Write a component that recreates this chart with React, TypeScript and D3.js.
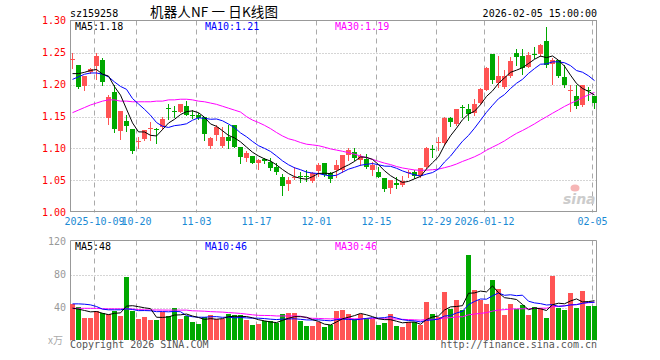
import React from "react";
import * as d3 from "d3";

// ---- data ----
const dates = [
  "2025-09-25","2025-09-26","2025-09-29","2025-09-30",
  "2025-10-09","2025-10-10","2025-10-13","2025-10-14","2025-10-15","2025-10-16","2025-10-17",
  "2025-10-20","2025-10-21","2025-10-22","2025-10-23","2025-10-24","2025-10-27","2025-10-28","2025-10-29","2025-10-30","2025-10-31",
  "2025-11-03","2025-11-04","2025-11-05","2025-11-06","2025-11-07","2025-11-10","2025-11-11","2025-11-12","2025-11-13","2025-11-14",
  "2025-11-17","2025-11-18","2025-11-19","2025-11-20","2025-11-21","2025-11-24","2025-11-25","2025-11-26","2025-11-27","2025-11-28",
  "2025-12-01","2025-12-02","2025-12-03","2025-12-04","2025-12-05","2025-12-08","2025-12-09","2025-12-10","2025-12-11","2025-12-12",
  "2025-12-15","2025-12-16","2025-12-17","2025-12-18","2025-12-19","2025-12-22","2025-12-23","2025-12-24","2025-12-25","2025-12-26",
  "2025-12-29","2025-12-30","2025-12-31",
  "2026-01-05","2026-01-06","2026-01-07","2026-01-08","2026-01-09",
  "2026-01-12","2026-01-13","2026-01-14","2026-01-15","2026-01-16","2026-01-19","2026-01-20","2026-01-21","2026-01-22","2026-01-23",
  "2026-01-26","2026-01-27","2026-01-28","2026-01-29","2026-01-30",
  "2026-02-02","2026-02-03","2026-02-04","2026-02-05",
];

const opens = [
  1.238,1.230,1.197,1.219,1.229,1.238,1.147,1.188,1.127,1.143,
  1.130,1.110,1.115,1.130,1.131,1.134,1.163,1.159,1.157,1.167,
  1.153,1.152,1.150,1.104,1.121,1.104,1.118,1.136,1.102,1.085,
  1.088,1.078,1.083,1.079,1.071,1.056,1.044,1.055,1.057,1.057,
  1.049,1.065,1.077,1.062,1.067,1.067,1.090,1.095,1.082,1.084,
  1.067,1.064,1.054,1.039,1.046,1.043,1.061,1.064,1.057,1.071,
  1.099,1.108,1.108,1.148,1.138,1.165,1.162,1.155,1.171,1.192,
  1.248,1.202,1.196,1.213,1.250,1.244,1.228,1.247,1.247,1.268,
  1.232,1.238,1.212,1.190,1.182,1.168,1.191,1.182,
];
const highs = [
  1.250,1.231,1.214,1.225,1.250,1.242,1.183,1.199,1.158,1.152,
  1.130,1.118,1.129,1.141,1.132,1.149,1.169,1.166,1.169,1.174,
  1.160,1.155,1.150,1.118,1.137,1.134,1.136,1.136,1.102,1.096,
  1.088,1.083,1.085,1.085,1.077,1.060,1.056,1.071,1.063,1.066,
  1.063,1.077,1.077,1.063,1.082,1.090,1.100,1.100,1.092,1.092,
  1.079,1.071,1.054,1.050,1.056,1.057,1.067,1.066,1.070,1.103,
  1.106,1.118,1.150,1.150,1.161,1.168,1.170,1.177,1.194,1.228,
  1.248,1.244,1.222,1.243,1.255,1.256,1.251,1.259,1.263,1.290,
  1.241,1.239,1.230,1.199,1.199,1.200,1.196,1.182,
];
const lows = [
  1.225,1.194,1.191,1.218,1.209,1.199,1.138,1.126,1.115,1.128,
  1.093,1.100,1.113,1.113,1.109,1.130,1.146,1.150,1.157,1.152,
  1.147,1.146,1.113,1.100,1.113,1.103,1.100,1.102,1.078,1.080,
  1.077,1.068,1.078,1.067,1.060,1.027,1.035,1.053,1.048,1.049,
  1.048,1.057,1.057,1.048,1.056,1.063,1.082,1.082,1.074,1.070,
  1.058,1.055,1.033,1.030,1.039,1.042,1.056,1.054,1.056,1.070,
  1.086,1.097,1.105,1.135,1.137,1.149,1.144,1.152,1.170,1.191,
  1.203,1.196,1.195,1.211,1.230,1.217,1.227,1.242,1.244,1.227,
  1.201,1.212,1.196,1.159,1.164,1.166,1.175,1.163,
];
const closes = [
  1.240,1.196,1.213,1.224,1.244,1.204,1.181,1.130,1.158,1.135,
  1.096,1.111,1.129,1.132,1.130,1.146,1.162,1.158,1.169,1.153,
  1.152,1.148,1.122,1.117,1.134,1.118,1.111,1.103,1.086,1.093,
  1.078,1.082,1.080,1.069,1.063,1.042,1.050,1.056,1.056,1.056,
  1.062,1.075,1.058,1.053,1.074,1.090,1.097,1.085,1.088,1.071,
  1.074,1.056,1.037,1.050,1.043,1.049,1.064,1.057,1.069,1.101,
  1.098,1.110,1.148,1.142,1.161,1.164,1.154,1.170,1.193,1.226,
  1.207,1.213,1.213,1.236,1.243,1.226,1.246,1.246,1.261,1.231,
  1.239,1.213,1.199,1.191,1.166,1.200,1.190,1.171,
];
// volume in 万
const volumes = [
  44.4,40.4,27.5,27.5,36,33.5,32.3,35.6,29.9,77.2,
  36,26.3,28.7,25,25,34.7,29.5,40,26.3,29.9,
  22.6,20.6,28.3,31.1,26.3,26.3,32.3,30.7,30.7,25,
  19,20.6,23.8,23.8,21.4,32.3,33.5,33.5,23.8,17.8,
  17.8,23,16.6,19,36,37.2,32.3,26.3,32.3,27.5,
  26.3,19,21.4,32.3,17.8,16.6,22.6,22.6,19,46.5,
  32,28.5,58.7,38,49,37,103.5,61,49,44.2,
  73.2,62.3,30.8,44.2,38,43,30.8,40.5,40,27.5,
  78,40,37,57,40,60,42,42,
];

// moving-average values before the window is full
const ma5Head = [1.217,1.217,1.219,1.222];
const ma10Head = [1.208,1.212,1.216,1.218,1.218,1.216,1.212,1.204,1.197];
const ma30Head = [
  1.156,1.160,1.164,1.168,1.171,1.174,1.176,1.176,1.174,1.174,
  1.173,1.173,1.173,1.173,1.174,1.174,1.176,1.176,1.177,1.177,
  1.176,1.174,1.173,1.171,1.169,1.166,1.163,1.160,1.157,
];
const volMa5Head = [39.2,38,36.4,34.7];
const volMa10Head = [44.4,44.4,44,43.2,41.2,38,37.2,37.2,37.2];
const volMa30Head = [
  39,39,39,39,39,38.5,38.4,38.4,38.4,38.3,
  38.2,37.5,37.2,37,37,36.9,36.8,36.8,36.8,36.8,
  36,35.8,35.5,35,34.7,34.4,33.8,33.4,32.8,
];

const priceTicks = [1.3,1.25,1.2,1.15,1.1,1.05,1.0];
const volTicks = [120,80,40];
const tickDates = ["2025-10-09","2025-10-20","2025-11-03","2025-11-17","2025-12-01","2025-12-15","2025-12-29","2026-01-12","2026-02-05"];
const tickLabels = ["2025-10-09","10-20","11-03","11-17","12-01","12-15","12-29","2026-01-12","02-05"];

const code = "sz159258";
const title = "机器人NF 一 日K线图";
const stamp = "2026-02-05 15:00:00";

// ---- helpers ----
function movingAvg(vals: number[], n: number, head: number[]): number[] {
  return vals.map((_, i) => (i >= n - 1 ? (d3.mean(vals.slice(i - n + 1, i + 1)) as number) : head[i]));
}

const RED = "#ff5454";
const GREEN = "#00a800";
const MONO = "'DejaVu Sans Mono', 'Liberation Mono', monospace";

export default function App() {
  const L = 70.5, R = 596.5;
  const mainTop = 20.5, mainBot = 212.5;
  const volTop = 240.5, volBot = 340.5;

  const x = d3.scaleBand<string>().domain(dates).range([69.3, 597.3]);
  const cx = (d: string) => Math.round((x(d) as number) + x.bandwidth() / 2);
  const y = d3.scaleLinear().domain([1.0, 1.3]).range([mainBot, mainTop]);
  const yv = d3.scaleLinear().domain([0, 120]).range([volBot, volBot - 99]);

  const ma5 = movingAvg(closes, 5, ma5Head);
  const ma10 = movingAvg(closes, 10, ma10Head);
  const ma30 = movingAvg(closes, 30, ma30Head);
  const vma5 = movingAvg(volumes, 5, volMa5Head);
  const vma10 = movingAvg(volumes, 10, volMa10Head);
  const vma30 = movingAvg(volumes, 30, volMa30Head);

  const priceLine = d3.line<number>().x((_, i) => cx(dates[i]) + 0.5).y((v) => y(v));
  const volLine = d3.line<number>().x((_, i) => cx(dates[i]) + 0.5).y((v) => yv(v));

  const last = dates.length - 1;
  const gridX = tickDates.map((d) => cx(d) - 2 + 0.5);

  return (
    <svg width={660} height={360} style={{ position: "absolute", left: 0, top: 0, background: "#fff" }}
      fontFamily={MONO} fontSize={10}>
      {/* header */}
      <text x={70} y={17} fill="#000">{code}</text>
      <text x={150} y={17} fill="#000" fontFamily="'Noto Sans CJK SC', sans-serif" fontSize={13.5}
        textLength={128} lengthAdjust="spacing" style={{ whiteSpace: "pre" }}>{title}</text>
      <text x={597} y={17} fill="#000" textAnchor="end">{stamp}</text>

      {/* main grid */}
      {priceTicks.slice(1, -1).map((t) => (
        <line key={t} x1={L} x2={R} y1={Math.round(y(t)) + 0.5} y2={Math.round(y(t)) + 0.5}
          stroke="#aaa" strokeDasharray="1,2" />
      ))}
      {gridX.map((gx, i) => (
        <g key={i}>
          <line x1={gx} x2={gx} y1={mainTop} y2={mainBot} stroke="#aaa" strokeDasharray="5,4" />
          <line x1={gx} x2={gx} y1={volTop} y2={volBot} stroke="#aaa" strokeDasharray="5,4" />
        </g>
      ))}
      {volTicks.slice(1).map((t) => (
        <line key={t} x1={L} x2={R} y1={Math.round(yv(t)) + 0.5} y2={Math.round(yv(t)) + 0.5}
          stroke="#aaa" strokeDasharray="1,2" />
      ))}

      {/* watermark */}
      <g>
        <ellipse cx={575} cy={188} rx={4.5} ry={3.5} fill="#f6b6b6" />
        <text x={563} y={204} fill="#cccccc" fontFamily="'DejaVu Sans', sans-serif" fontStyle="italic"
          fontWeight="bold" fontSize={14}>sina</text>
      </g>

      {/* frames */}
      <rect x={L} y={mainTop} width={R - L} height={mainBot - mainTop - 1} fill="none" stroke="#999" />
      <line x1={L} x2={R} y1={volTop} y2={volTop} stroke="#999" />
      <line x1={L} x2={L} y1={volTop} y2={volBot} stroke="#999" />
      <line x1={R} x2={R} y1={volTop} y2={volBot} stroke="#999" />

      {/* y labels */}
      {priceTicks.map((t) => (
        <text key={t} x={66} y={y(t) + 3.5} fill="#ff0000" textAnchor="end">{t.toFixed(2)}</text>
      ))}
      {volTicks.map((t) => (
        <text key={t} x={66} y={yv(t) + 3.5} fill="#999" textAnchor="end">{t}</text>
      ))}
      <text x={48} y={344} fill="#aaa" fontFamily="'Noto Sans CJK SC', sans-serif" fontSize={10}>x万</text>

      {/* x labels */}
      {tickDates.map((d, i) => (
        <text key={d} x={gridX[i]} y={225} fill="#1a8ad4" textAnchor="middle">{tickLabels[i]}</text>
      ))}

      {/* candles */}
      {dates.map((d, i) => {
        const up = closes[i] >= opens[i];
        const col = up ? RED : GREEN;
        const c = cx(d);
        const top = Math.round(y(Math.max(opens[i], closes[i])));
        const bot = Math.round(y(Math.min(opens[i], closes[i])));
        return (
          <g key={d}>
            <line x1={c + 0.5} x2={c + 0.5} y1={Math.round(y(highs[i]))} y2={Math.round(y(lows[i])) + 1} stroke={col} />
            <rect x={c - 2} y={top} width={5} height={Math.max(1, bot - top)} fill={col} />
          </g>
        );
      })}

      {/* price MAs */}
      <path d={priceLine(ma30) as string} fill="none" stroke="#ff00ff" strokeWidth={1} />
      <path d={priceLine(ma10) as string} fill="none" stroke="#0000ff" strokeWidth={1} />
      <path d={priceLine(ma5) as string} fill="none" stroke="#000" strokeWidth={1} />

      {/* volume bars */}
      {dates.map((d, i) => {
        const up = closes[i] >= opens[i];
        const top = Math.round(yv(volumes[i]));
        return <rect key={d} x={cx(d) - 2} y={top} width={5} height={volBot - 0.5 - top} fill={up ? RED : GREEN} />;
      })}
      <path d={volLine(vma30) as string} fill="none" stroke="#ff00ff" strokeWidth={1} />
      <path d={volLine(vma10) as string} fill="none" stroke="#0000ff" strokeWidth={1} />
      <path d={volLine(vma5) as string} fill="none" stroke="#000" strokeWidth={1} />

      {/* MA labels */}
      <text x={75} y={29.5} fill="#000">{`MA5:${ma5[last].toFixed(2)}`}</text>
      <text x={205} y={29.5} fill="#0000ff">{`MA10:${ma10[last].toFixed(2)}`}</text>
      <text x={335} y={29.5} fill="#ff00ff">{`MA30:${ma30[last].toFixed(2)}`}</text>
      <text x={75} y={249.5} fill="#000">{`MA5:${Math.round(vma5[last])}`}</text>
      <text x={205} y={249.5} fill="#0000ff">{`MA10:${Math.round(vma10[last])}`}</text>
      <text x={335} y={249.5} fill="#ff00ff">{`MA30:${Math.round(vma30[last])}`}</text>

      {/* footer */}
      <text x={70} y={348} fill="#555">Copyright 2026 SINA.COM</text>
      <text x={597} y={348} fill="#555" textAnchor="end">http://finance.sina.com.cn</text>
    </svg>
  );
}
